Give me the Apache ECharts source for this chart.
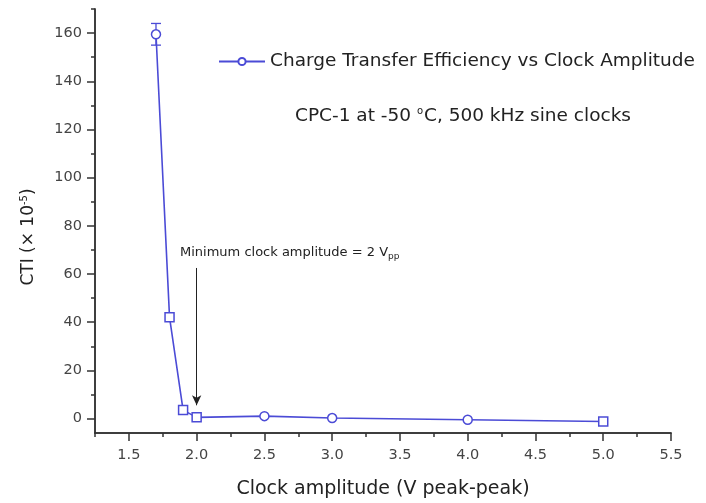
<!DOCTYPE html>
<html><head><meta charset="utf-8">
<script src="https://cdn.jsdelivr.net/npm/echarts@6/dist/echarts.min.js"></script>
<style>html,body{margin:0;padding:0;background:#fff}#c{width:706px;height:503px}</style>
</head><body><div id="c"></div>
<script>
const amplitudes = [1.7, 1.8, 1.9, 2.0, 2.5, 3.0, 4.0, 5.0];
const ctiValues  = [159.5, 42, 3.5, 0.5, 1, 0.2, -0.5, -1.2];
const ctiErrors  = [4.5, 0, 0, 0, 0, 0, 0, 0];
const xTickLabels = [1.5, 2.0, 2.5, 3.0, 3.5, 4.0, 4.5, 5.0, 5.5];
const xMinorTicks = [1.25, 1.75, 2.25, 2.75, 3.25, 3.75, 4.25, 4.75, 5.25];
const yTickLabels = [0, 20, 40, 60, 80, 100, 120, 140, 160];
const yMinorTicks = [10, 30, 50, 70, 90, 110, 130, 150, 170];
const seriesName = 'Charge Transfer Efficiency vs Clock Amplitude';
const squarePoints = [1, 2, 3, 7];

const C = '#4b4bd6';
const AX = '#333';
const FONT = 'DejaVu Sans, sans-serif';
const X = {min:1.25, max:5.5};
const Y = {min:-6, max:170};

const chart = echarts.init(document.getElementById('c'));
const baseX = (extra) => Object.assign({type:'value', min:X.min, max:X.max, position:'bottom', splitLine:{show:false},
  axisLine:{show:true, onZero:false, lineStyle:{color:AX, width:1.5}}}, extra);
const baseY = (extra) => Object.assign({type:'value', min:Y.min, max:Y.max, position:'left', splitLine:{show:false},
  axisLine:{show:true, onZero:false, lineStyle:{color:AX, width:1.5}}}, extra);

chart.setOption({
  animation:false,
  textStyle:{fontFamily:FONT},
  grid:{left:95, right:35, top:9, bottom:70, containLabel:false, outerBoundsMode:'none'},
  legend:{left:213, top:47, itemWidth:46, itemHeight:9, itemGap:4, data:[seriesName],
    textStyle:{fontSize:18.5, color:'#222', fontFamily:FONT}},
  xAxis:[
    baseX({name:'Clock amplitude (V peak-peak)', nameLocation:'middle', nameGap:47,
      nameTextStyle:{fontSize:19, color:'#222', fontFamily:FONT},
      axisTick:{show:true, length:8, customValues:xTickLabels, lineStyle:{color:AX, width:1.5}},
      axisLabel:{customValues:xTickLabels, fontSize:14.5, color:'#444', margin:15, fontFamily:FONT, formatter:v=>v.toFixed(1)}}),
    baseX({axisTick:{show:true, length:4, customValues:xMinorTicks, lineStyle:{color:AX, width:1.5}},
      axisLabel:{show:false}})
  ],
  yAxis:[
    baseY({axisTick:{show:true, length:8, customValues:yTickLabels, lineStyle:{color:AX, width:1.5}},
      axisLabel:{customValues:yTickLabels, fontSize:14.5, color:'#444', margin:13, fontFamily:FONT}}),
    baseY({axisTick:{show:true, length:4, customValues:yMinorTicks, lineStyle:{color:AX, width:1.5}},
      axisLabel:{show:false}})
  ],
  series:[
    {name:seriesName, type:'line', xAxisIndex:0, yAxisIndex:0,
      symbol:'circle', symbolSize:9,
      lineStyle:{color:C, width:1.6}, itemStyle:{color:'#fff', borderColor:C, borderWidth:1.5},
      data: amplitudes.map((x,i)=>({value:[x, ctiValues[i]], symbol: squarePoints.includes(i)?'rect':'circle'})),
      markLine:{silent:true, symbol:['none','arrow'], symbolSize:[7,10], label:{show:false},
        lineStyle:{color:'#222', width:1, type:'solid'},
        data:[[{coord:[2.0, 62.5]}, {coord:[2.0, 5.5]}]]}
    },
    {type:'custom', xAxisIndex:0, yAxisIndex:0, silent:true, z:1,
      data: amplitudes.map((x,i)=>[x, ctiValues[i], ctiErrors[i]]),
      renderItem:(params, api)=>{
        const e = api.value(2);
        if (!e) return;
        const x = api.value(0), y = api.value(1);
        const top = api.coord([x, y+e]), bot = api.coord([x, y-e]);
        const hw = 5;
        const st = {stroke:C, lineWidth:1.3};
        return {type:'group', children:[
          {type:'line', shape:{x1:top[0], y1:top[1], x2:bot[0], y2:bot[1]}, style:st},
          {type:'line', shape:{x1:top[0]-hw, y1:top[1], x2:top[0]+hw, y2:top[1]}, style:st},
          {type:'line', shape:{x1:bot[0]-hw, y1:bot[1], x2:bot[0]+hw, y2:bot[1]}, style:st}
        ]};
      }
    }
  ],
  graphic:[
    {type:'text', x:29, y:237, rotation:Math.PI/2,
      style:{text:'CTI (× 10{s|-5})', fontSize:17, fill:'#222', fontFamily:FONT, align:'center', verticalAlign:'middle',
      rich:{s:{fontSize:10, fill:'#222', fontFamily:FONT, padding:[0,0,10,0]}}}},
    {type:'text', left:295, top:106, style:{text:'CPC-1 at -50 {s|o}C, 500 kHz sine clocks', fontSize:18.5, fill:'#222', fontFamily:FONT,
      rich:{s:{fontSize:10, fill:'#222', fontFamily:FONT, padding:[0,1,11,0]}}}},
    {type:'text', left:180, top:246, style:{text:'Minimum clock amplitude = 2 V{s|pp}', fontSize:13, fill:'#222', fontFamily:FONT,
      rich:{s:{fontSize:9, fill:'#222', fontFamily:FONT, padding:[9,0,0,0]}}}}
  ]
});
</script></body></html>
